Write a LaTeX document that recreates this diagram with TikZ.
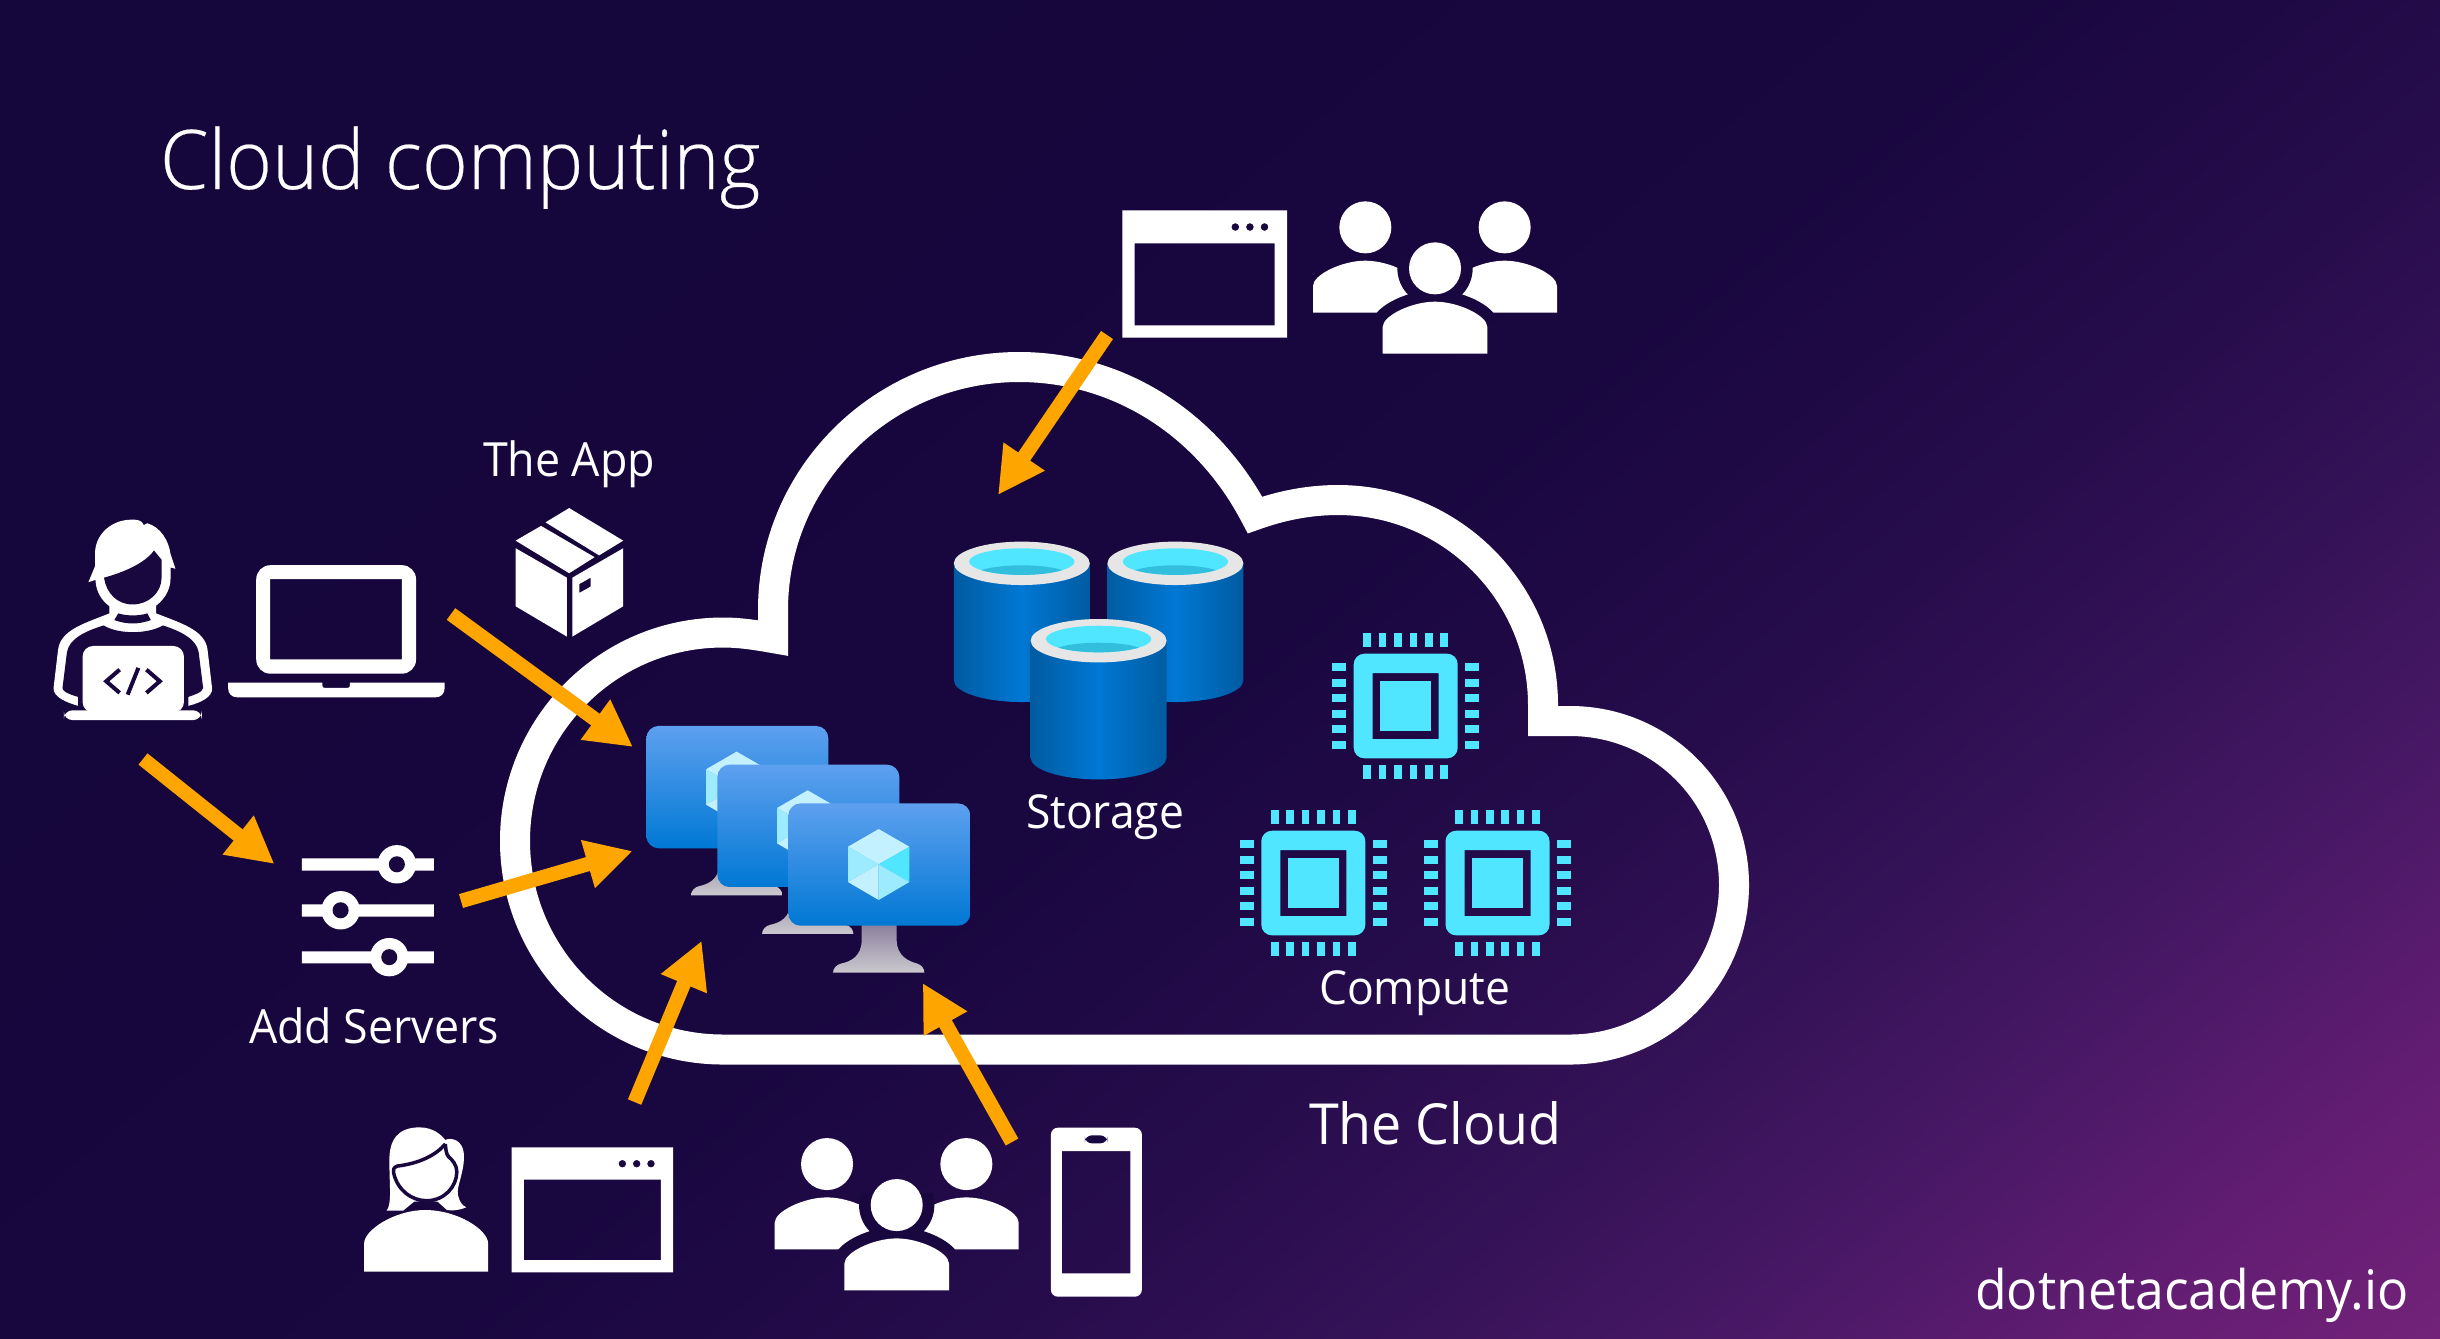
\documentclass[tikz,border=0pt]{standalone}
\usepackage{fontspec}
\setmainfont{Open Sans}[FakeStretch=0.95]
\newfontfamily\titlefont{Open Sans Light}[FakeStretch=0.95,FakeBold=0.25]
\usetikzlibrary{arrows.meta,calc}
\definecolor{bgA}{HTML}{15063B}
\definecolor{bgB}{HTML}{190740}
\definecolor{bgC}{HTML}{260C4B}
\definecolor{bgD}{HTML}{341257}
\definecolor{bgE}{HTML}{481865}
\definecolor{bgF}{HTML}{621D72}
\definecolor{bgG}{HTML}{722279}
\definecolor{darkfill}{HTML}{190740}
\definecolor{flowc}{HTML}{FFA500}
\definecolor{cyanc}{HTML}{50E6FF}
\definecolor{rimc}{HTML}{E6E6E6}
\definecolor{vmtop}{HTML}{5EA0EF}
\definecolor{vmbot}{HTML}{0078D4}
\definecolor{standtop}{HTML}{8A7F9C}
\definecolor{standbot}{HTML}{CBC9CF}
\definecolor{cubeA}{HTML}{C3F1FF}
\definecolor{cubeB}{HTML}{9CEBFF}
\definecolor{cylE}{HTML}{005BA1}
\definecolor{crescent}{HTML}{32BEDD}
\pgfdeclareverticalshading{bgfade}{100bp}{color(0bp)=(bgA); color(38bp)=(bgA); color(50bp)=(bgB); color(56bp)=(bgC); color(60bp)=(bgD); color(64bp)=(bgE); color(68bp)=(bgF); color(71.6bp)=(bgG); color(100bp)=(bgG)}
\tikzset{
  flow/.style={draw=flowc,line width=0.144cm,-{Triangle[length=0.465cm,width=0.465cm]}},
  lab/.style={text=white,anchor=base west,inner sep=0pt,outer sep=0pt},
  cloudline/.style={draw=white,line width=0.30cm,line join=miter,miter limit=20},
}
\newcommand{\bodyshape}[2]{(#1-157,#2+156) -- (#1-157,#2+76) .. controls (#1-157,#2+42) and (#1-70,#2) .. (#1,#2) .. controls (#1+70,#2) and (#1+157,#2+42) .. (#1+157,#2+76) -- (#1+157,#2+156) -- cycle}
\newcommand{\peopleicon}[2]{%
\begin{scope}[shift={(#1,#2)},scale=1/3]
\fill[white] (856,142) circle (78) (1274,142) circle (78);
\fill[white] \bodyshape{856}{242};
\fill[white] \bodyshape{1274}{242};
\begin{scope}
\clip (690,230) rectangle (1440,399);
\fill[darkfill] (1065,265) circle (113);
\draw[darkfill,line width=0.233cm,line join=round,fill=darkfill] \bodyshape{1065}{365};
\end{scope}
\fill[white] (1065,265) circle (78);
\fill[white] \bodyshape{1065}{365};
\end{scope}}
\newcommand{\vmicon}[2]{%
\begin{scope}[shift={(#1,#2)},scale=1/3]
\shade[top color=standtop,bottom color=standbot] (785,730) -- (890,730) -- (890,780) .. controls (890,830) and (930,845) .. (950,850) .. controls (965,855) and (973,865) .. (973,878) -- (699,878) .. controls (699,865) and (710,853) .. (725,850) .. controls (750,845) and (785,830) .. (785,780) -- cycle;
\shade[top color=vmtop,bottom color=vmbot,rounded corners=3.5pt] (565,370) rectangle (1111,737);
\fill[cubeA] (836,447) -- (928,500) -- (836,553) -- (744,500) -- cycle;
\fill[cyanc] (928,500) -- (928,606) -- (836,553) -- cycle;
\fill[cubeB] (744,500) -- (836,553) -- (744,606) -- cycle;
\fill[cubeA] (744,606) -- (836,553) -- (836,660) -- cycle;
\fill[cubeB] (836,553) -- (928,606) -- (836,660) -- cycle;
\end{scope}}
\newcommand{\cylicon}[2]{%
\begin{scope}[shift={(#1,#2)}]
\shade[left color=cylE,right color=cylE,middle color=vmbot] (-68,0) -- (-68,117) .. controls (-68,129) and (-37.5,138.7) .. (0,138.7) .. controls (37.5,138.7) and (68,129) .. (68,117) -- (68,0) -- cycle;
\fill[rimc] (0,0) ellipse [x radius=68,y radius=21.7];
\fill[cyanc] (0,-1.7) ellipse [x radius=52.7,y radius=13.3];
\begin{scope}
\clip (0,-1.7) ellipse [x radius=52.7,y radius=13.3];
\fill[crescent] (0,12) ellipse [x radius=47,y radius=10];
\end{scope}
\end{scope}}
\newcommand{\chipicon}[2]{%
\begin{scope}[shift={(#1,#2)}]
\fill[cyanc] (-25.5,-25) rectangle (25.5,25);
\fill[cyanc,even odd rule] [rounded corners=3pt] (-52,-52.3) rectangle (52,52.3) [sharp corners] (-33,-33) rectangle (33,33);
\foreach \k in {-2.5,-1.5,-0.5,0.5,1.5,2.5}{
 \fill[cyanc] ({\k*15.4-3.8},-73.3) rectangle ({\k*15.4+3.8},-59.3);
 \fill[cyanc] ({\k*15.4-3.8},59.3) rectangle ({\k*15.4+3.8},73.3);
 \fill[cyanc] (-73.3,{\k*15.5-3.8}) rectangle (-59.3,{\k*15.5+3.8});
 \fill[cyanc] (59.3,{\k*15.5-3.8}) rectangle (73.3,{\k*15.5+3.8});
}
\end{scope}}
\begin{document}
\begin{tikzpicture}[x=0.01cm,y=-0.01cm]
\useasboundingbox (0,0) rectangle (2440,1338);
\begin{scope}
\clip (0,0) rectangle (2440,1338);
\shade[shading=bgfade,shading angle=220] (-280,-831) rectangle (2720,2169);
\end{scope}

% cloud outline
\path[cloudline] (773,638) -- (773,610) .. controls (773,476) and (883,367) .. (1019,367)
  .. controls (1120,367) and (1208,425) .. (1255,515)
  .. controls (1280,506) and (1308,500) .. (1338,500)
  .. controls (1451,500) and (1543,592) .. (1543,705) -- (1543,721) -- (1570,721)
  .. controls (1661,721) and (1734,794) .. (1734,885)
  .. controls (1734,976) and (1661,1049.5) .. (1570,1049.5) -- (723,1049.5)
  .. controls (608,1049.5) and (515,956) .. (515,841)
  .. controls (515,726) and (608,632.5) .. (723,632.5)
  .. controls (740,632.5) and (756,635) .. cycle;

% title and labels
\node[lab,font=\titlefont\fontsize{23.4}{28}\selectfont] (title) at (160,189) {Cloud computing};
\node[lab,font=\fontsize{13.4}{16}\selectfont] (applabel) at (483,476) {The App};
\node[lab,font=\fontsize{13.4}{16}\selectfont] (addlabel) at (249,1043.5) {Add Servers};
\node[lab,font=\fontsize{13.3}{16}\selectfont] (storelabel) at (1026,828) {Storage};
\node[lab,font=\fontsize{13.3}{16}\selectfont] (computelabel) at (1319,1004.5) {Compute};
\node[lab,font=\fontsize{16.1}{19}\selectfont] (cloudlabel) at (1309,1144) {The Cloud};
\node[lab,font=\fontsize{15.5}{19}\selectfont] (sitelabel) at (1975,1309) {dotnetacademy.io};

% developer, laptop, box, sliders
\begin{scope}[shift={(0,400)},scale=1/2.24]
\fill[white] (245,440) -- (245,478) .. controls (190,500) and (135,515) .. (130,560) -- (120,645) .. controls (118,665) and (150,678) .. (175,685) -- (422,685) .. controls (450,678) and (477,665) .. (475,645) -- (465,560) .. controls (460,515) and (405,500) .. (350,478) -- (350,440) -- cycle;
\fill[darkfill] (232,505) .. controls (265,525) and (330,525) .. (365,505) .. controls (405,518) and (440,535) .. (445,565) -- (455,645) .. controls (455,655) and (430,662) .. (422,665) -- (422,692) -- (175,692) -- (175,665) .. controls (165,662) and (140,655) .. (140,645) -- (150,565) .. controls (155,535) and (190,518) .. (232,505) -- cycle;
\fill[darkfill] (265,478) .. controls (285,484) and (310,484) .. (330,478) -- (338,493) .. controls (310,503) and (285,503) .. (256,493) -- cycle;
\fill[white] (198,408) -- (213,372) -- (213,340) .. controls (215,300) and (250,268) .. (295,268) .. controls (305,268) and (318,268) .. (322,280) -- (330,276) .. controls (360,285) and (378,315) .. (382,345) -- (393,378) -- (382,375) -- (382,400) .. controls (382,440) and (345,478) .. (297,478) .. controls (250,478) and (215,445) .. (214,403) -- cycle;
\fill[darkfill] (233,398) .. controls (280,385) and (325,365) .. (345,337) -- (362,358) -- (362,398) .. controls (362,432) and (332,458) .. (297,458) .. controls (262,458) and (238,432) .. (233,398) -- cycle;
\fill[white,rounded corners=3pt] (185,551) rectangle (412,700);
\fill[white,rounded corners=2.5pt] (143,695) -- (452,695) -- (452,717) -- (143,717) -- cycle;
\draw[darkfill,line width=0.04cm] (268,604) -- (238,630) -- (268,656) (310,600) -- (286,660) (328,604) -- (358,630) -- (328,656);
\fill[white,even odd rule] [rounded corners=4pt] (574,613) -- (574,370) -- (932,370) -- (932,613) -- cycle [sharp corners] (605,401) rectangle (900,581);
\fill[white] (511,633) -- (722,633) -- (722,639) .. controls (722,643) and (724,645) .. (728,645) -- (778,645) .. controls (782,645) and (784,643) .. (784,639) -- (784,633) -- (996,633) -- (996,645) .. controls (996,658) and (988,666) .. (975,666) -- (532,666) .. controls (519,666) and (511,658) .. (511,645) -- cycle;
\fill[white] (1155,315) -- (1212,282) -- (1332,352) -- (1275,388) -- cycle;
\fill[white] (1222,274) -- (1275,242) -- (1396,315) -- (1342,348) -- cycle;
\fill[white] (1155,332) -- (1270,398) -- (1270,530) -- (1155,462) -- cycle;
\fill[white,even odd rule] (1282,398) -- (1396,332) -- (1396,462) -- (1282,530) -- cycle (1298,412) -- (1323,398) -- (1323,418) -- (1298,432) -- cycle;
\fill[white] (676,1027) rectangle (972,1054) (676,1130) rectangle (972,1157) (676,1235) rectangle (972,1262);
\fill[white] (889,1040) circle (43) (763,1143) circle (43) (872,1248) circle (43);
\fill[darkfill] (889,1040) circle (18) (763,1143) circle (18) (872,1248) circle (18);
\end{scope}

% top window and people
\begin{scope}[shift={(1122.3,210.3)}]
\fill[white,even odd rule] (0,0) rectangle (164.7,127.4) (12.4,33) rectangle (152.4,115)
  (113,16.7) circle (3.9) (127.6,16.7) circle (3.9) (142.2,16.7) circle (3.9);
\end{scope}
\peopleicon{1080}{180}

% bottom: woman, phone
\begin{scope}[shift={(340,1080)},xscale=1/1.823,yscale=1/3]
\fill[white] (44,575) -- (44,490) .. controls (44,450) and (100,390) .. (155,390) .. controls (215,390) and (270,450) .. (270,490) -- (270,575) -- cycle;
\fill[white] (85,392) .. controls (95,370) and (90,320) .. (90,240) .. controls (90,180) and (105,142) .. (145,142) .. controls (170,142) and (185,165) .. (192,180) .. controls (200,172) and (226,175) .. (226,230) .. controls (226,280) and (212,320) .. (215,345) .. controls (218,365) and (222,375) .. (230,382) .. controls (215,392) and (205,392) .. (195,390) -- (178,365) -- (158,362) -- (135,365) -- (115,392) -- cycle;
\draw[darkfill,line width=0.035cm,line join=round] (192,192) .. controls (175,225) and (145,250) .. (105,258) .. controls (97,262) and (97,268) .. (98,280) .. controls (105,330) and (130,362) .. (158,362) .. controls (190,362) and (213,320) .. (213,275) .. controls (213,255) and (205,240) .. (198,230) .. controls (193,222) and (193,205) .. (192,192);
\fill[white,even odd rule] [rounded corners=2pt] (1296,143) rectangle (1462,650) [sharp corners] (1316,213) rectangle (1441,580);
\fill[darkfill,rounded corners=2pt] (1358,166) rectangle (1399,190);
\end{scope}
\begin{scope}[shift={(511.7,1147.3)},xscale=161.3/164.7,yscale=125/127.4]
\fill[white,even odd rule] (0,0) rectangle (164.7,127.4) (12.4,33) rectangle (152.4,115)
  (113,16.7) circle (3.9) (127.6,16.7) circle (3.9) (142.2,16.7) circle (3.9);
\end{scope}
\peopleicon{541.7}{1116.7}

% storage
\cylicon{1021.8}{563.3}
\cylicon{1175.4}{563.3}
\cylicon{1098.6}{640.7}

% compute
\chipicon{1405.7}{706}
\chipicon{1313.3}{883}
\chipicon{1497.5}{883}

% virtual machines
\vmicon{458}{602.6}
\vmicon{529}{641.3}
\vmicon{600}{680}

% connectors
\coordinate (laptopOut) at (451,614);
\coordinate (vmInA) at (633,747);
\coordinate (devOut) at (143,759);
\coordinate (slidersIn) at (274.5,864);
\coordinate (slidersOut) at (461,901);
\coordinate (vmInB) at (632.6,851);
\coordinate (womanOut) at (634.6,1102);
\coordinate (vmInC) at (701.7,940.7);
\coordinate (peopleOut) at (1012,1142);
\coordinate (vmInD) at (922.7,983);
\coordinate (windowOut) at (1107,335);
\coordinate (storeIn) at (998,495);
\draw[flow] (laptopOut) -- (vmInA);
\draw[flow] (devOut) -- (slidersIn);
\draw[flow] (slidersOut) -- (vmInB);
\draw[flow] (womanOut) -- (vmInC);
\draw[flow] (peopleOut) -- (vmInD);
\draw[flow] (windowOut) -- (storeIn);
\end{tikzpicture}
\end{document}
